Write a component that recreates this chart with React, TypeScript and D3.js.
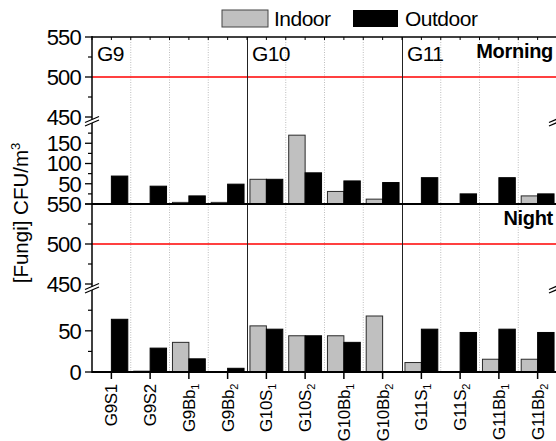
import React from "react";
import * as d3 from "d3";

// Sampling sites, split into label base text and subscript
const categories = [
  "G9S1", "G9S2", "G9Bb1", "G9Bb2",
  "G10S1", "G10S2", "G10Bb1", "G10Bb2",
  "G11S1", "G11S2", "G11Bb1", "G11Bb2",
];
const labelBase = [
  "G9S1", "G9S2", "G9Bb", "G9Bb",
  "G10S", "G10S", "G10Bb", "G10Bb",
  "G11S", "G11S", "G11Bb", "G11Bb",
];
const labelSub = ["", "", "1", "2", "1", "2", "1", "2", "1", "2", "1", "2"];
const groups = ["G9", "G10", "G11"];
const series = ["Indoor", "Outdoor"];

// Fungi concentration, CFU/m3
const morningIndoor = [0, 0, 4, 4, 61, 170, 31, 12, 0, 0, 0, 20];
const morningOutdoor = [69, 44, 20, 49, 61, 77, 57, 53, 65, 25, 65, 25];
const nightIndoor = [0, 1, 36, 0, 56, 44, 44, 68, 11.5, 0, 15.5, 15.5];
const nightOutdoor = [64, 29, 16, 4.5, 52, 44, 36, 0, 52, 48, 52, 48];

// Axis ticks (the morning zero sits under the night panel's 550 label)
const upperMajor = [450, 500, 550];
const upperMinor = [475, 525];
const morningLowMajor = [0, 50, 100, 150];
const morningLowLabels = [50, 100, 150];
const morningLowMinor = [25, 75, 125, 175];
const nightLowMajor = [0, 50];
const nightLowLabels = [0, 50];
const nightLowMinor = [25, 75];
const limitValue = 500;

const W = 556;
const H = 441;
const left = 92;
const right = 557;
const font = "'Liberation Sans', Arial, Helvetica, sans-serif";

const x = d3.scaleBand<string>().domain(categories).range([left, right]).padding(0);
const xi = d3.scaleBand<string>().domain(series).range([0, x.bandwidth()]).paddingInner(0).paddingOuter(0.18);

type Panel = {
  top: number;
  bottom: number;
  breakY: number;
  lowMax: number;
  lowMajor: number[];
  lowLabels: number[];
  lowMinor: number[];
  indoor: number[];
  outdoor: number[];
  title: string;
  titleY: number;
};

const panels: Panel[] = [
  { top: 37, bottom: 204, breakY: 121, lowMax: 205, lowMajor: morningLowMajor, lowLabels: morningLowLabels, lowMinor: morningLowMinor, indoor: morningIndoor, outdoor: morningOutdoor, title: "Morning", titleY: 58 },
  { top: 204, bottom: 372, breakY: 288, lowMax: 102, lowMajor: nightLowMajor, lowLabels: nightLowLabels, lowMinor: nightLowMinor, indoor: nightIndoor, outdoor: nightOutdoor, title: "Night", titleY: 225 },
];

function makeY(p: Panel) {
  const low = d3.scaleLinear().domain([0, p.lowMax]).range([p.bottom, p.breakY]);
  const high = d3.scaleLinear().domain([445, 550]).range([p.breakY, p.top]);
  return (v: number) => (v <= p.lowMax ? low(v) : high(v));
}

function BreakMark({ cx, cy }: { cx: number; cy: number }) {
  return (
    <g>
      <polygon
        points={`${cx - 7},${cy + 1.5} ${cx + 7},${cy - 4.5} ${cx + 7},${cy - 1} ${cx - 7},${cy + 5}`}
        fill="white"
      />
      <line x1={cx - 7} y1={cy + 1.5} x2={cx + 7} y2={cy - 4.5} stroke="black" strokeWidth={1.2} />
      <line x1={cx - 7} y1={cy + 5} x2={cx + 7} y2={cy - 1} stroke="black" strokeWidth={1.2} />
    </g>
  );
}

function PanelView({ p }: { p: Panel }) {
  const y = makeY(p);
  const majors = [...p.lowMajor, ...upperMajor];
  const labels = [...p.lowLabels, ...upperMajor];
  const minors = [...p.lowMinor, ...upperMinor];
  return (
    <g>
      {/* bars */}
      {categories.map((c, i) => {
        const x0 = x(c)!;
        const vi = p.indoor[i];
        const vo = p.outdoor[i];
        return (
          <g key={c}>
            {vi > 0 && (
              <rect x={x0 + xi("Indoor")!} y={y(vi)} width={xi.bandwidth()} height={p.bottom - y(vi)}
                fill="#c0c0c0" stroke="#2a2a2a" strokeWidth={1} />
            )}
            {vo > 0 && (
              <rect x={x0 + xi("Outdoor")!} y={y(vo)} width={xi.bandwidth()} height={p.bottom - y(vo)}
                fill="#000" stroke="#000" strokeWidth={1} />
            )}
          </g>
        );
      })}
      {/* limit line */}
      <line x1={left} x2={right} y1={y(limitValue)} y2={y(limitValue)} stroke="#ff0000" strokeWidth={1.5} />
      {/* y ticks */}
      {majors.map((v) => (
        <line key={"M" + v} x1={left - 7} x2={left} y1={y(v)} y2={y(v)} stroke="black" strokeWidth={1.3} />
      ))}
      {labels.map((v) => (
        <text key={"L" + v} x={81} y={y(v)} dy="0.36em" textAnchor="end" fontSize={22} fontFamily={font} letterSpacing={-0.8}>
          {v}
        </text>
      ))}
      {minors.map((v) => (
        <line key={"m" + v} x1={left - 4} x2={left} y1={y(v)} y2={y(v)} stroke="black" strokeWidth={1.2} />
      ))}
      <text x={553} y={p.titleY} textAnchor="end" fontSize={20} fontWeight="bold" fontFamily={font} letterSpacing={-0.3}>
        {p.title}
      </text>
    </g>
  );
}

export default function App() {
  const gridIdx = [1, 2, 3, 5, 6, 7, 9, 10, 11];
  const groupIdx = [4, 8];
  const halfTicks = d3.range(0, categories.length * 2 + 1).map((k) => left + (k * x.bandwidth()) / 2);
  return (
    <svg width={W} height={H} style={{ position: "absolute", left: 0, top: 0, background: "white" }}>
      <rect x={0} y={0} width={W} height={H} fill="white" />
      {/* dotted separators between sites */}
      {gridIdx.map((i) => (
        <line key={"g" + i} x1={x(categories[i])!} x2={x(categories[i])!} y1={37} y2={372}
          stroke="#bdbdbd" strokeWidth={1} strokeDasharray="1,1.5" />
      ))}
      {panels.map((p) => (
        <PanelView key={p.title} p={p} />
      ))}
      {/* group separators */}
      {groupIdx.map((i) => (
        <line key={"s" + i} x1={x(categories[i])! + 0.5} x2={x(categories[i])! + 0.5} y1={37} y2={372}
          stroke="#222" strokeWidth={1} />
      ))}
      {/* group names */}
      {groups.map((g, k) => (
        <text key={g} x={x(categories[k * 4])! + 5} y={61} fontSize={21} fontFamily={font} letterSpacing={-0.6}>
          {g}
        </text>
      ))}
      {/* frame */}
      <line x1={left} x2={left} y1={36} y2={373} stroke="black" strokeWidth={1.5} />
      <line x1={right} x2={right} y1={36} y2={373} stroke="black" strokeWidth={1.5} />
      <line x1={left} x2={right} y1={37} y2={37} stroke="black" strokeWidth={1.5} />
      <line x1={left} x2={right} y1={204} y2={204} stroke="black" strokeWidth={2} />
      <line x1={left} x2={right} y1={372} y2={372} stroke="black" strokeWidth={2} />
      {/* top ticks */}
      {halfTicks.map((tx, k) => (
        <line key={"t" + k} x1={tx} x2={tx} y1={37} y2={40} stroke="black" strokeWidth={1} />
      ))}
      {/* axis breaks */}
      {panels.map((p) => (
        <g key={"b" + p.title}>
          <BreakMark cx={left} cy={p.breakY} />
          <BreakMark cx={right - 1} cy={p.breakY} />
        </g>
      ))}
      {/* x ticks and labels */}
      {categories.map((c, i) => {
        const cx = x(c)! + x.bandwidth() / 2;
        return (
          <g key={"x" + c}>
            <line x1={cx} x2={cx} y1={372} y2={379} stroke="black" strokeWidth={1.5} />
            <text transform={`translate(${cx + 6},384) rotate(-90)`} textAnchor="end" fontSize={17}
              fontFamily={font} letterSpacing={-0.3}>
              {labelBase[i]}
              {labelSub[i] && (
                <tspan fontSize={11} dy={4}>{labelSub[i]}</tspan>
              )}
            </text>
          </g>
        );
      })}
      {/* y axis title */}
      <text transform="translate(28,213) rotate(-90)" textAnchor="middle" fontSize={20.5} fontFamily={font}>
        [Fungi] CFU/m<tspan fontSize={13} dy={-8}>3</tspan>
      </text>
      {/* legend */}
      <rect x={222} y={10} width={46} height={17} fill="#c0c0c0" stroke="#444" strokeWidth={1} />
      <text x={274} y={26} fontSize={21} fontFamily={font} letterSpacing={-0.5}>Indoor</text>
      <rect x={353} y={10} width={45} height={17} fill="#000" />
      <text x={405} y={26} fontSize={21} fontFamily={font} letterSpacing={-0.5}>Outdoor</text>
    </svg>
  );
}
